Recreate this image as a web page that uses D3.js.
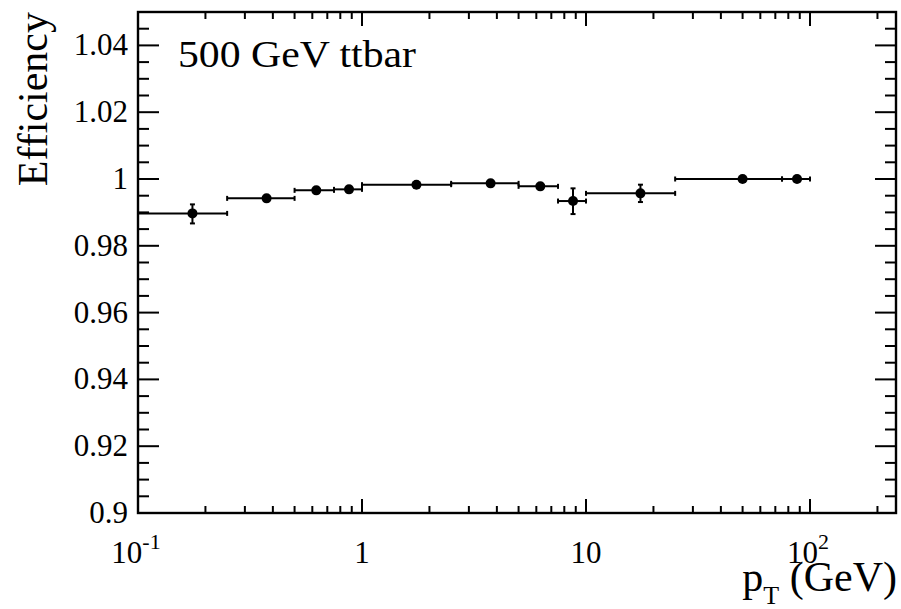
<!DOCTYPE html>
<html>
<head>
<meta charset="utf-8">
<script src="https://cdn.jsdelivr.net/npm/d3@7"></script>
<style>
  body { margin: 0; background: #fff; }
</style>
</head>
<body>
<svg id="chart" width="901" height="609"></svg>
<script>
// bins in pT (GeV)
let binLow = [0.1, 0.25, 0.5, 0.75, 1, 2.5, 5, 7.5, 10, 25, 75];
let binHigh = [0.25, 0.5, 0.75, 1, 2.5, 5, 7.5, 10, 25, 75, 100];
let efficiency = [0.9897, 0.9942, 0.9966, 0.9969, 0.9983, 0.9987, 0.9978, 0.9934, 0.9957, 1.0, 1.0];
let errorLow = [0.0030, 0.0008, 0.0005, 0.0005, 0.0003, 0.0003, 0.0006, 0.0039, 0.0026, 0.0002, 0.0002];
let errorHigh = [0.0027, 0.0008, 0.0005, 0.0005, 0.0003, 0.0003, 0.0006, 0.0038, 0.0026, 0, 0];

let yTicks = [0.9, 0.92, 0.94, 0.96, 0.98, 1.0, 1.02, 1.04];
let yTickLabels = ["0.9", "0.92", "0.94", "0.96", "0.98", "1", "1.02", "1.04"];
let xTicks = [0.1, 1, 10, 100];
let xTickBase = ["10", "1", "10", "10"];
let xTickExp = ["-1", "", "", "2"];

let serif = "Liberation Serif";
let frameLeft = 138, frameRight = 896, frameTop = 12, frameBottom = 513;

let svg = d3.select("#chart");

let x = d3.scaleLog().domain([0.1, 242]).range([frameLeft, frameRight]);
let y = d3.scaleLinear().domain([0.9, 1.05]).range([frameBottom, frameTop]);

// log minor ticks 2..9 per decade
let xMinor = [];
for (let decade of [0.1, 1, 10, 100]) {
    for (let k = 2; k <= 9; k++) {
        let v = decade * k;
        if (v < 242) xMinor.push(v);
    }
}
let yMinor = d3.range(0, 31).map(i => 0.9 + i * 0.005).filter(v => !yTicks.some(t => Math.abs(t - v) < 1e-9));

let ticks = svg.append("g").attr("stroke", "#000").attr("stroke-width", 2);
for (let v of xTicks) {
    ticks.append("line").attr("x1", x(v)).attr("x2", x(v)).attr("y1", frameBottom).attr("y2", frameBottom - 14);
    ticks.append("line").attr("x1", x(v)).attr("x2", x(v)).attr("y1", frameTop).attr("y2", frameTop + 14);
}
for (let v of xMinor) {
    ticks.append("line").attr("x1", x(v)).attr("x2", x(v)).attr("y1", frameBottom).attr("y2", frameBottom - 7);
    ticks.append("line").attr("x1", x(v)).attr("x2", x(v)).attr("y1", frameTop).attr("y2", frameTop + 7);
}
for (let v of yTicks) {
    ticks.append("line").attr("x1", frameLeft).attr("x2", frameLeft + 21).attr("y1", y(v)).attr("y2", y(v));
    ticks.append("line").attr("x1", frameRight).attr("x2", frameRight - 21).attr("y1", y(v)).attr("y2", y(v));
}
for (let v of yMinor) {
    ticks.append("line").attr("x1", frameLeft).attr("x2", frameLeft + 11).attr("y1", y(v)).attr("y2", y(v));
    ticks.append("line").attr("x1", frameRight).attr("x2", frameRight - 11).attr("y1", y(v)).attr("y2", y(v));
}

// frame
svg.append("rect")
    .attr("x", frameLeft).attr("y", frameTop)
    .attr("width", frameRight - frameLeft).attr("height", frameBottom - frameTop)
    .attr("fill", "none").attr("stroke", "#000").attr("stroke-width", 2.4);

// y tick labels
svg.append("g").selectAll("text")
    .data(yTicks)
    .join("text")
    .attr("font-family", serif)
    .attr("x", frameLeft - 10)
    .attr("y", v => y(v) + 10)
    .attr("text-anchor", "end")
    .attr("font-size", 31)
    .text((v, i) => yTickLabels[i]);

// x tick labels
xTicks.forEach((v, i) => {
    let t = svg.append("text")
        .attr("font-family", serif)
        .attr("x", x(v) - (xTickExp[i] ? 2 : 0))
        .attr("y", 563)
        .attr("text-anchor", "middle")
        .attr("font-size", 31);
    t.append("tspan").text(xTickBase[i]);
    if (xTickExp[i]) {
        t.append("tspan").attr("dy", -14).attr("font-size", 22).text(xTickExp[i]);
    }
});

// axis titles
svg.append("text")
    .attr("font-family", serif)
    .attr("transform", "translate(47,12) rotate(-90)")
    .attr("text-anchor", "end")
    .attr("font-size", 42)
    .text("Efficiency");

let xt = svg.append("text")
    .attr("font-family", serif)
    .attr("x", 897)
    .attr("y", 591)
    .attr("text-anchor", "end")
    .attr("font-size", 42);
xt.append("tspan").text("p");
xt.append("tspan").attr("dy", 13).attr("font-size", 26).text("T");
xt.append("tspan").attr("dy", -13).text(" (GeV)");

// label
svg.append("text")
    .attr("font-family", serif)
    .attr("x", 178)
    .attr("y", 67)
    .attr("font-size", 37)
    .attr("textLength", 238)
    .attr("lengthAdjust", "spacingAndGlyphs")
    .text("500 GeV ttbar");

// data points with error bars
let markerRadius = 5;
let points = svg.append("g").attr("stroke", "#000").attr("stroke-width", 2);
binLow.forEach((low, i) => {
    let high = binHigh[i];
    let cx = x((low + high) / 2);
    let cy = y(efficiency[i]);
    points.append("line").attr("x1", x(low)).attr("x2", x(high)).attr("y1", cy).attr("y2", cy);
    points.append("line").attr("x1", x(low)).attr("x2", x(low)).attr("y1", cy - 2.5).attr("y2", cy + 2.5);
    points.append("line").attr("x1", x(high)).attr("x2", x(high)).attr("y1", cy - 2.5).attr("y2", cy + 2.5);
    let yTop = y(efficiency[i] + errorHigh[i]);
    let yBottom = y(efficiency[i] - errorLow[i]);
    if (cy - yTop > markerRadius) {
        points.append("line").attr("x1", cx).attr("x2", cx).attr("y1", cy).attr("y2", yTop);
        points.append("line").attr("x1", cx - 2.5).attr("x2", cx + 2.5).attr("y1", yTop).attr("y2", yTop);
    }
    if (yBottom - cy > markerRadius) {
        points.append("line").attr("x1", cx).attr("x2", cx).attr("y1", cy).attr("y2", yBottom);
        points.append("line").attr("x1", cx - 2.5).attr("x2", cx + 2.5).attr("y1", yBottom).attr("y2", yBottom);
    }
    svg.append("circle").attr("cx", cx).attr("cy", cy).attr("r", markerRadius).attr("fill", "#000");
});
</script>
</body>
</html>
